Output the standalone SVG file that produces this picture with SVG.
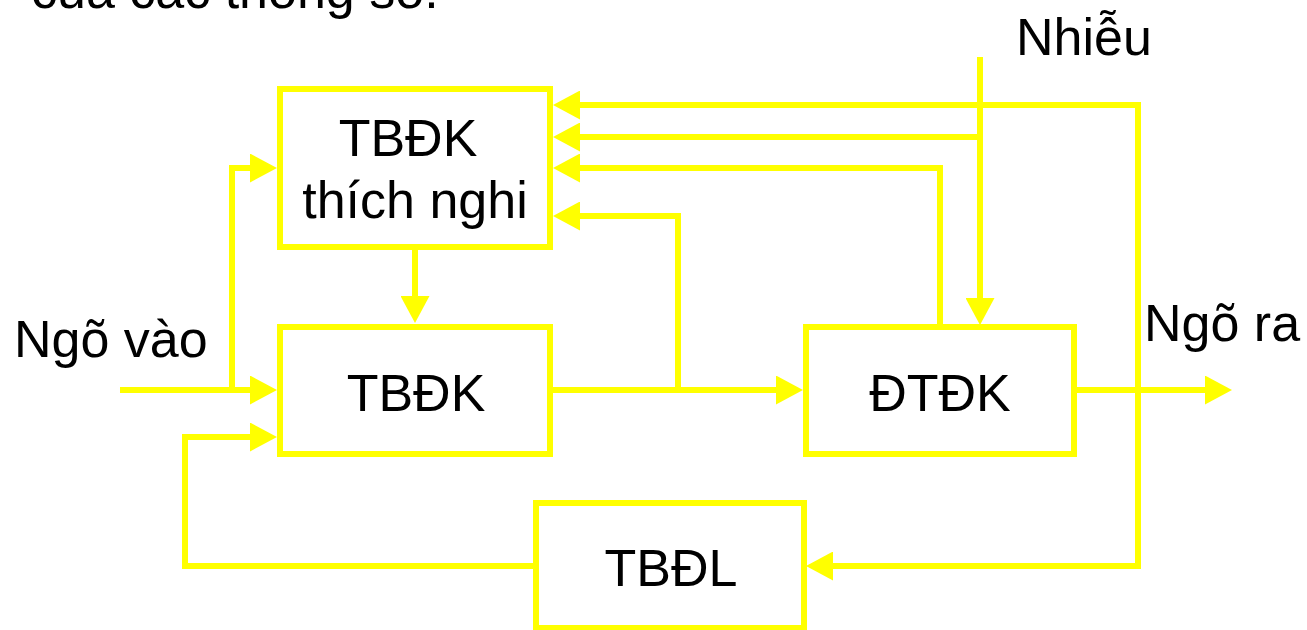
<svg xmlns="http://www.w3.org/2000/svg" width="1307" height="630" viewBox="0 0 1307 630">
  <style>
    .box { fill: #ffffff; stroke: #ffff00; stroke-width: 6; }
    .wire { fill: none; stroke: #ffff00; stroke-width: 6; stroke-linejoin: miter; stroke-linecap: butt; }
    .lbl { font-family: "Liberation Sans", Arial, sans-serif; font-size: 52px; fill: #000000; }
    .mid { text-anchor: middle; }
  </style>
  <defs>
    <marker id="arrow" markerUnits="userSpaceOnUse" viewBox="0 0 27 29" refX="3" refY="14.5" markerWidth="27" markerHeight="29" orient="auto">
      <path d="M0,0 L27,14.5 L0,29 Z" fill="#ffff00"/>
    </marker>
  </defs>
  <rect width="1307" height="630" fill="#ffffff"/>

  <text class="lbl" x="31" y="8">của các thông số.</text>

  <!-- signal lines -->
  <g id="connectors">
    <path class="wire" d="M120,390 H253" marker-end="url(#arrow)"/>
    <path class="wire" d="M232,390 V168 H253" marker-end="url(#arrow)"/>
    <path class="wire" d="M536,566 H185 V437 H253" marker-end="url(#arrow)"/>
    <path class="wire" d="M415,250 V299" marker-end="url(#arrow)"/>
    <path class="wire" d="M553,390 H779" marker-end="url(#arrow)"/>
    <path class="wire" d="M678,390 V216 H577" marker-end="url(#arrow)"/>
    <path class="wire" d="M940,324 V168 H577" marker-end="url(#arrow)"/>
    <path class="wire" d="M980,57 V301" marker-end="url(#arrow)"/>
    <path class="wire" d="M980,137 H577" marker-end="url(#arrow)"/>
    <path class="wire" d="M1077,390 H1208" marker-end="url(#arrow)"/>
    <path class="wire" d="M1138,390 V105 H577" marker-end="url(#arrow)"/>
    <path class="wire" d="M1138,390 V566 H830" marker-end="url(#arrow)"/>
  </g>

  <g id="adaptive-controller">
    <rect class="box" x="280" y="89" width="270" height="158"/>
    <text class="lbl mid" x="408" y="156">TBĐK</text>
    <text class="lbl mid" x="415" y="218">thích nghi</text>
  </g>

  <g id="controller">
    <rect class="box" x="280" y="327" width="270" height="127"/>
    <text class="lbl mid" x="416" y="411">TBĐK</text>
  </g>

  <g id="plant">
    <rect class="box" x="806" y="327" width="268" height="127"/>
    <text class="lbl mid" x="940" y="411">ĐTĐK</text>
  </g>

  <g id="sensor">
    <rect class="box" x="536" y="503" width="268" height="125"/>
    <text class="lbl mid" x="671" y="586">TBĐL</text>
  </g>

  <g id="labels">
    <text class="lbl" x="14" y="357">Ngõ vào</text>
    <text class="lbl" x="1016" y="55">Nhiễu</text>
    <text class="lbl" x="1144" y="341">Ngõ ra</text>
  </g>
</svg>
